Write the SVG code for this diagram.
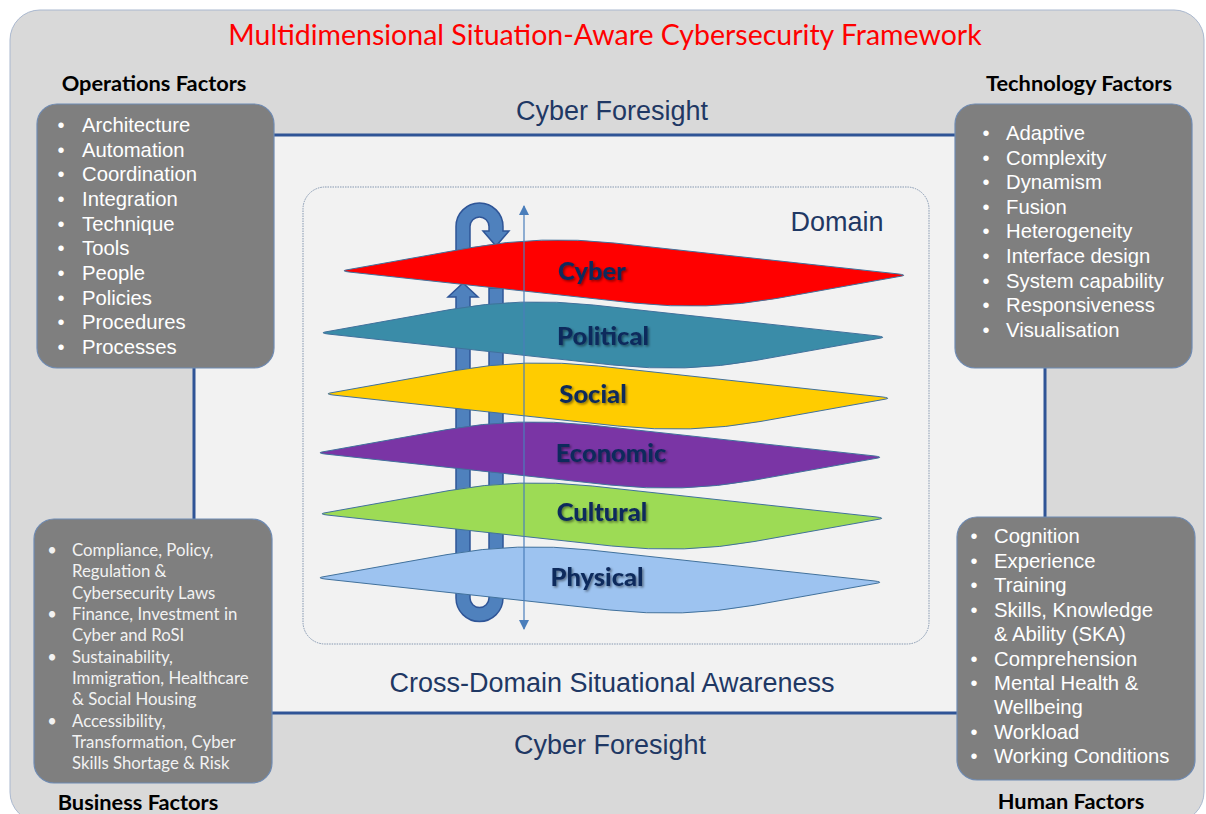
<svg xmlns="http://www.w3.org/2000/svg" width="1206" height="814" viewBox="0 0 1206 814">
<style>
.box{fill:#7f7f7f;stroke:#6f8bb3;stroke-width:1.2}
.item{font-family:"Liberation Sans",Arial,sans-serif;font-size:20.3px;fill:#ffffff}
.bul{font-family:"Liberation Sans",Arial,sans-serif;font-size:20px;fill:#ffffff;text-anchor:middle}
.bitem{font-family:Lato,"Liberation Sans",sans-serif;font-size:16.8px;fill:#f2f2f2}
.bbul{font-family:Lato,"Liberation Sans",sans-serif;font-size:16.5px;fill:#f2f2f2;text-anchor:middle}
.ftitle{font-family:Lato,"Liberation Sans",sans-serif;font-weight:bold;font-size:21.8px;fill:#000000;text-anchor:middle}
.navy{font-family:"Liberation Sans",Arial,sans-serif;font-size:27px;fill:#1f3864;text-anchor:middle}
.plane{stroke:#41719c;stroke-width:1}
.plabel{font-family:Lato,"Liberation Sans",sans-serif;font-weight:900;font-size:25.5px;fill:#0e2a5c;text-anchor:middle;filter:url(#sh)}
.loop{fill:#4f81bd;stroke:#2f5597;stroke-width:1.5}
</style>
<defs>
<filter id="sh" x="-10%" y="-30%" width="130%" height="170%">
<feDropShadow dx="1.5" dy="1.5" stdDeviation="1" flood-color="#000000" flood-opacity="0.45"/>
</filter>
<path id="pl" d="M5,-1 L130,-23.4 Q200,-36 273.2,-28 L557,2.9 Q566,4 561,5 L436,27.4 Q366,40 292.8,32 L8,1 Q0,0 5,-1 Z"/>
<marker id="ah" viewBox="0 0 10 10" refX="9" refY="5" markerWidth="10" markerHeight="10" markerUnits="userSpaceOnUse" orient="auto-start-reverse">
<path d="M0,0 L10,5 L0,10 Z" fill="#4a7ebb"/>
</marker>
</defs>

<g id="background">
<rect x="10" y="10" width="1194" height="812" rx="30" fill="#d9d9d9" stroke="#aab8cf" stroke-width="1"/>
<rect x="194" y="135" width="851" height="578" fill="#f2f2f2" stroke="#2f5496" stroke-width="3"/>
<rect x="303" y="187" width="626" height="457" rx="22" fill="#f2f2f2" stroke="#8497b0" stroke-width="1" stroke-dasharray="1.5 1"/>
</g>

<g id="title">
<text x="605" y="45" font-family="Lato,'Liberation Sans',sans-serif" font-size="28.5" fill="#ff0000" text-anchor="middle">Multidimensional Situation-Aware Cybersecurity Framework</text>
</g>

<g id="labels">
<text class="navy" x="612" y="120">Cyber Foresight</text>
<text class="navy" x="610" y="754">Cyber Foresight</text>
<text class="navy" x="612" y="692">Cross-Domain Situational Awareness</text>
<text class="navy" x="837" y="231">Domain</text>
</g>

<g id="loop">
<path class="loop" d="M456,297 L448,297 L463,283 L478,297 L470,297 L470,598 A9.5,9.5 0 0 0 489,598 L489,288 L503,288 L503,598 A23.5,23.5 0 0 1 456,598 Z"/>
<path class="loop" d="M456,275 L456,226.5 A23.5,23.5 0 0 1 503,226.5 L503,231 L509,231 L496,246 L483,231 L489,231 L489,226.5 A9.5,9.5 0 0 0 470,226.5 L470,275 Z"/>
</g>

<g id="planes">
<g id="physical"><use href="#pl" class="plane" fill="#9dc3f0" transform="translate(317,578)"/><text class="plabel" x="597" y="586">Physical</text></g>
<g id="cultural"><use href="#pl" class="plane" fill="#9ddb55" transform="translate(319,514)"/><text class="plabel" x="602" y="520.5">Cultural</text></g>
<g id="economic"><use href="#pl" class="plane" fill="#7a35a5" transform="translate(317,453)"/><text class="plabel" x="611" y="461.5">Economic</text></g>
<g id="social"><use href="#pl" class="plane" fill="#ffcc00" transform="translate(325,394)"/><text class="plabel" x="593" y="402.5">Social</text></g>
<g id="political"><use href="#pl" class="plane" fill="#3a8ca8" transform="translate(320,333)"/><text class="plabel" x="603" y="345">Political</text></g>
<g id="cyber"><use href="#pl" class="plane" fill="#ff0000" transform="translate(341,271)"/><text class="plabel" x="592" y="279.5">Cyber</text></g>
</g>

<g id="connectors">
<line x1="524" y1="206" x2="524" y2="629" stroke="#4a7ebb" stroke-width="1.2" marker-start="url(#ah)" marker-end="url(#ah)"/>
</g>

<g id="operations">
<text class="ftitle" x="154" y="91">Operations Factors</text>
<rect class="box" x="37" y="104" width="237" height="264" rx="20"/>
<text class="bul" x="61" y="132">•</text><text class="bul" x="61" y="156.7">•</text><text class="bul" x="61" y="181.3">•</text><text class="bul" x="61" y="206">•</text><text class="bul" x="61" y="230.7">•</text><text class="bul" x="61" y="255.3">•</text><text class="bul" x="61" y="280">•</text><text class="bul" x="61" y="304.7">•</text><text class="bul" x="61" y="329.3">•</text><text class="bul" x="61" y="354">•</text>
<text class="item" x="82" y="132">Architecture</text>
<text class="item" x="82" y="156.7">Automation</text>
<text class="item" x="82" y="181.3">Coordination</text>
<text class="item" x="82" y="206">Integration</text>
<text class="item" x="82" y="230.7">Technique</text>
<text class="item" x="82" y="255.3">Tools</text>
<text class="item" x="82" y="280">People</text>
<text class="item" x="82" y="304.7">Policies</text>
<text class="item" x="82" y="329.3">Procedures</text>
<text class="item" x="82" y="354">Processes</text>
</g>

<g id="technology">
<text class="ftitle" x="1079" y="91">Technology Factors</text>
<rect class="box" x="955" y="104" width="237" height="264" rx="20"/>
<text class="bul" x="986" y="140">•</text><text class="bul" x="986" y="164.6">•</text><text class="bul" x="986" y="189.2">•</text><text class="bul" x="986" y="213.8">•</text><text class="bul" x="986" y="238.4">•</text><text class="bul" x="986" y="263">•</text><text class="bul" x="986" y="287.6">•</text><text class="bul" x="986" y="312.2">•</text><text class="bul" x="986" y="336.8">•</text>
<text class="item" x="1006" y="140">Adaptive</text>
<text class="item" x="1006" y="164.6">Complexity</text>
<text class="item" x="1006" y="189.2">Dynamism</text>
<text class="item" x="1006" y="213.8">Fusion</text>
<text class="item" x="1006" y="238.4">Heterogeneity</text>
<text class="item" x="1006" y="263">Interface design</text>
<text class="item" x="1006" y="287.6">System capability</text>
<text class="item" x="1006" y="312.2">Responsiveness</text>
<text class="item" x="1006" y="336.8">Visualisation</text>
</g>

<g id="business">
<rect class="box" x="34" y="519" width="238" height="264" rx="20"/>
<text class="bbul" x="52" y="556">•</text><text class="bbul" x="52" y="620">•</text><text class="bbul" x="52" y="662.7">•</text><text class="bbul" x="52" y="726.7">•</text>
<text class="bitem" x="72" y="556">Compliance, Policy,</text>
<text class="bitem" x="72" y="577.3">Regulation &amp;</text>
<text class="bitem" x="72" y="598.7">Cybersecurity Laws</text>
<text class="bitem" x="72" y="620">Finance, Investment in</text>
<text class="bitem" x="72" y="641.3">Cyber and RoSI</text>
<text class="bitem" x="72" y="662.7">Sustainability,</text>
<text class="bitem" x="72" y="684">Immigration, Healthcare</text>
<text class="bitem" x="72" y="705.3">&amp; Social Housing</text>
<text class="bitem" x="72" y="726.7">Accessibility,</text>
<text class="bitem" x="72" y="748">Transformation, Cyber</text>
<text class="bitem" x="72" y="769.3">Skills Shortage &amp; Risk</text>
<text class="ftitle" x="138" y="810">Business Factors</text>
</g>

<g id="human">
<rect class="box" x="957" y="517" width="238" height="263" rx="20"/>
<text class="bul" x="974" y="543.3">•</text><text class="bul" x="974" y="567.7">•</text><text class="bul" x="974" y="592.2">•</text><text class="bul" x="974" y="616.6">•</text><text class="bul" x="974" y="665.5">•</text><text class="bul" x="974" y="690">•</text><text class="bul" x="974" y="738.8">•</text><text class="bul" x="974" y="763.3">•</text>
<text class="item" x="994" y="543.3">Cognition</text>
<text class="item" x="994" y="567.7">Experience</text>
<text class="item" x="994" y="592.2">Training</text>
<text class="item" x="994" y="616.6">Skills, Knowledge</text>
<text class="item" x="994" y="641.1">&amp; Ability (SKA)</text>
<text class="item" x="994" y="665.5">Comprehension</text>
<text class="item" x="994" y="690">Mental Health &amp;</text>
<text class="item" x="994" y="714.4">Wellbeing</text>
<text class="item" x="994" y="738.8">Workload</text>
<text class="item" x="994" y="763.3">Working Conditions</text>
<text class="ftitle" x="1071" y="809">Human Factors</text>
</g>
</svg>
